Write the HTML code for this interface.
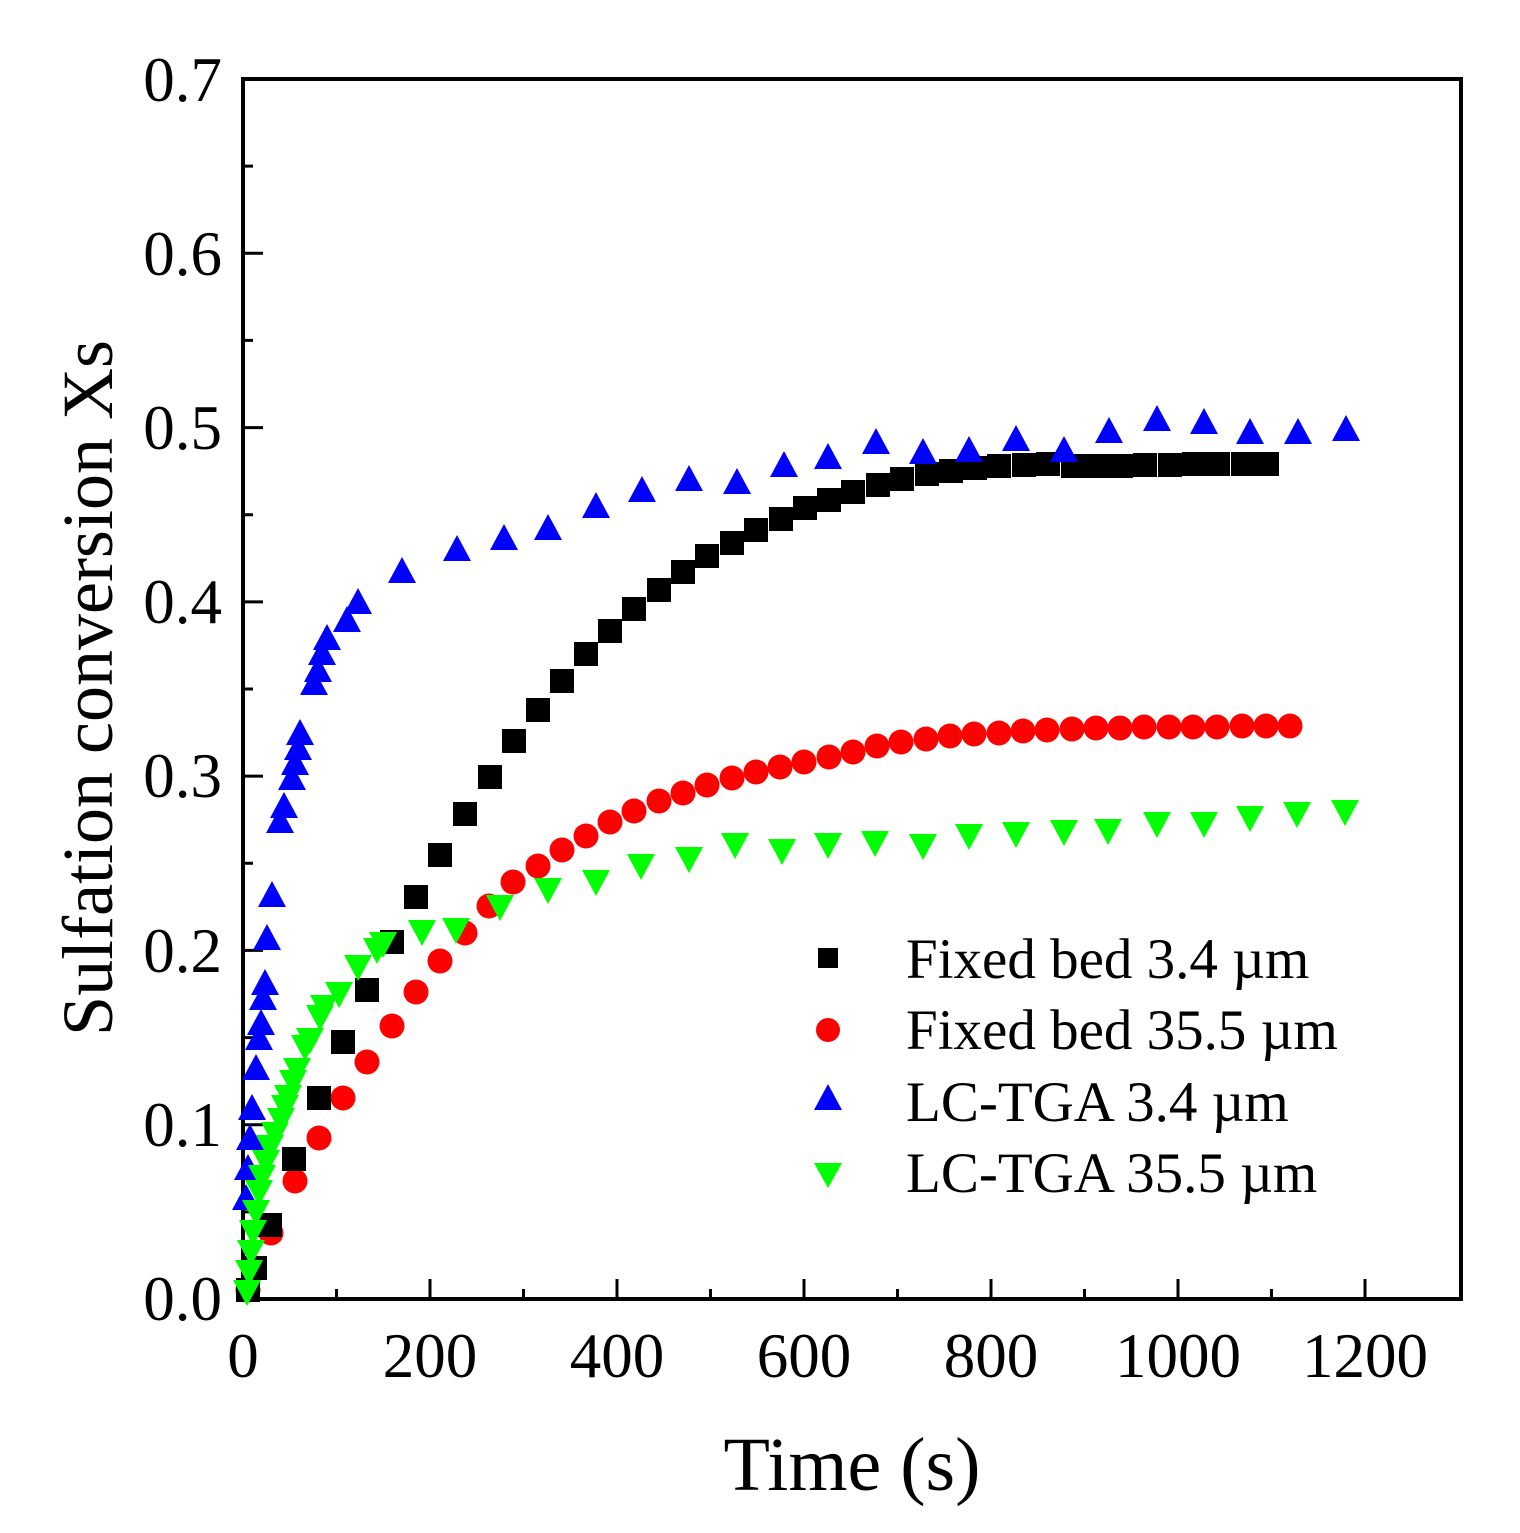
<!DOCTYPE html>
<html><head><style>body{margin:0;background:#fff}svg{display:block}text{font-family:"Liberation Serif",serif;fill:#000}</style></head><body>
<svg width="1520" height="1533" viewBox="0 0 1520 1533" xmlns="http://www.w3.org/2000/svg">
<defs>
<rect id="sq" x="-12" y="-12" width="24" height="24" fill="#000"/>
<circle id="ci" r="12.5" fill="#f00"/>
<polygon id="tu" points="0,-16 14,10 -14,10" fill="#00f"/>
<polygon id="td" points="0,16 14,-10 -14,-10" fill="#0f0"/>
</defs>
<g stroke="#000" stroke-width="3">
<path d="M243 1299v-20M430 1299v-20M617 1299v-20M804 1299v-20M991 1299v-20M1178 1299v-20M1365 1299v-20M336.5 1299v-10M523.5 1299v-10M710.5 1299v-10M897.5 1299v-10M1084.5 1299v-10M1271.5 1299v-10"/>
<path d="M243 1299h20M243 1124.7h20M243 950.4h20M243 776.1h20M243 601.9h20M243 427.6h20M243 253.3h20M243 79h20M243 1211.9h10M243 1037.6h10M243 863.3h10M243 689h10M243 514.7h10M243 340.4h10M243 166.1h10"/>
</g>
<rect x="243" y="79" width="1218" height="1220" fill="none" stroke="#000" stroke-width="4"/>
<g font-size="63" text-anchor="end">
<text x="222" y="1320">0.0</text><text x="222" y="1146">0.1</text><text x="222" y="972">0.2</text><text x="222" y="797">0.3</text><text x="222" y="623">0.4</text><text x="222" y="449">0.5</text><text x="222" y="275">0.6</text><text x="222" y="101">0.7</text>
</g>
<g font-size="63" text-anchor="middle">
<text x="243" y="1377">0</text><text x="430" y="1377">200</text><text x="617" y="1377">400</text><text x="804" y="1377">600</text><text x="991" y="1377">800</text><text x="1178" y="1377">1000</text><text x="1365" y="1377">1200</text>
</g>
<text x="852" y="1490" font-size="76" text-anchor="middle">Time (s)</text>
<text transform="translate(112,688) rotate(-90)" font-size="72" text-anchor="middle">Sulfation conversion Xs</text>
<g>
<use href="#ci" x="248" y="1290"/><use href="#ci" x="271" y="1233"/><use href="#ci" x="295" y="1181"/><use href="#ci" x="319" y="1138"/><use href="#ci" x="343" y="1098"/><use href="#ci" x="367" y="1062"/><use href="#ci" x="392" y="1026"/><use href="#ci" x="416" y="992"/><use href="#ci" x="440" y="961"/><use href="#ci" x="465" y="933"/><use href="#ci" x="489" y="906"/><use href="#ci" x="513" y="882"/><use href="#ci" x="538" y="866"/><use href="#ci" x="562" y="850"/><use href="#ci" x="586" y="836"/><use href="#ci" x="610" y="822"/><use href="#ci" x="634" y="811"/><use href="#ci" x="659" y="801"/><use href="#ci" x="683" y="793"/><use href="#ci" x="707" y="785"/><use href="#ci" x="732" y="778"/><use href="#ci" x="756" y="772"/><use href="#ci" x="780" y="767"/><use href="#ci" x="804" y="762"/><use href="#ci" x="829" y="757"/><use href="#ci" x="853" y="752"/><use href="#ci" x="877" y="746"/><use href="#ci" x="901" y="742"/><use href="#ci" x="926" y="739"/><use href="#ci" x="950" y="736"/><use href="#ci" x="974" y="734"/><use href="#ci" x="999" y="733"/><use href="#ci" x="1023" y="731"/><use href="#ci" x="1047" y="730"/><use href="#ci" x="1072" y="729"/><use href="#ci" x="1096" y="728"/><use href="#ci" x="1120" y="728"/><use href="#ci" x="1144" y="727"/><use href="#ci" x="1169" y="727"/><use href="#ci" x="1193" y="727"/><use href="#ci" x="1217" y="727"/><use href="#ci" x="1242" y="726"/><use href="#ci" x="1266" y="726"/><use href="#ci" x="1290" y="726"/>
</g>
<g>
<use href="#sq" x="248" y="1290"/><use href="#sq" x="255" y="1268"/><use href="#sq" x="270" y="1225"/><use href="#sq" x="294" y="1159"/><use href="#sq" x="319" y="1098"/><use href="#sq" x="343" y="1042"/><use href="#sq" x="367" y="990"/><use href="#sq" x="392" y="942"/><use href="#sq" x="416" y="897"/><use href="#sq" x="440" y="855"/><use href="#sq" x="465" y="814"/><use href="#sq" x="490" y="777"/><use href="#sq" x="514" y="741"/><use href="#sq" x="538" y="710"/><use href="#sq" x="562" y="681"/><use href="#sq" x="586" y="654"/><use href="#sq" x="610" y="631"/><use href="#sq" x="634" y="609"/><use href="#sq" x="659" y="590"/><use href="#sq" x="683" y="572"/><use href="#sq" x="707" y="556"/><use href="#sq" x="732" y="543"/><use href="#sq" x="756" y="530"/><use href="#sq" x="781" y="519"/><use href="#sq" x="805" y="508"/><use href="#sq" x="829" y="500"/><use href="#sq" x="853" y="492"/><use href="#sq" x="878" y="485"/><use href="#sq" x="902" y="479"/><use href="#sq" x="927" y="474"/><use href="#sq" x="951" y="471"/><use href="#sq" x="975" y="468"/><use href="#sq" x="999" y="466"/><use href="#sq" x="1024" y="465"/><use href="#sq" x="1048" y="464"/><use href="#sq" x="1073" y="466"/><use href="#sq" x="1097" y="466"/><use href="#sq" x="1121" y="466"/><use href="#sq" x="1145" y="465"/><use href="#sq" x="1170" y="465"/><use href="#sq" x="1194" y="464"/><use href="#sq" x="1218" y="464"/><use href="#sq" x="1243" y="464"/><use href="#sq" x="1267" y="464"/>
</g>
<g>
<use href="#tu" x="246" y="1200"/><use href="#tu" x="248" y="1170"/><use href="#tu" x="250" y="1140"/><use href="#tu" x="252" y="1110"/><use href="#tu" x="256" y="1070"/><use href="#tu" x="259" y="1040"/><use href="#tu" x="261" y="1025"/><use href="#tu" x="263" y="1000"/><use href="#tu" x="265" y="985"/><use href="#tu" x="267" y="940"/><use href="#tu" x="272" y="897"/><use href="#tu" x="280" y="823"/><use href="#tu" x="284" y="808"/><use href="#tu" x="292" y="780"/><use href="#tu" x="295" y="765"/><use href="#tu" x="298" y="750"/><use href="#tu" x="300" y="735"/><use href="#tu" x="314" y="685"/><use href="#tu" x="318" y="672"/><use href="#tu" x="322" y="655"/><use href="#tu" x="327" y="640"/><use href="#tu" x="347" y="622"/><use href="#tu" x="358" y="604"/><use href="#tu" x="402" y="573"/><use href="#tu" x="457" y="551"/><use href="#tu" x="504" y="540"/><use href="#tu" x="548" y="530"/><use href="#tu" x="596" y="508"/><use href="#tu" x="642" y="492"/><use href="#tu" x="689" y="481"/><use href="#tu" x="737" y="484"/><use href="#tu" x="784" y="467"/><use href="#tu" x="828" y="459"/><use href="#tu" x="876" y="444"/><use href="#tu" x="923" y="454"/><use href="#tu" x="969" y="452"/><use href="#tu" x="1016" y="441"/><use href="#tu" x="1064" y="452"/><use href="#tu" x="1109" y="433"/><use href="#tu" x="1157" y="421"/><use href="#tu" x="1204" y="424"/><use href="#tu" x="1250" y="434"/><use href="#tu" x="1298" y="434"/><use href="#tu" x="1346" y="431"/>
</g>
<g>
<use href="#td" x="247" y="1290"/><use href="#td" x="249" y="1270"/><use href="#td" x="251" y="1250"/><use href="#td" x="253" y="1230"/><use href="#td" x="256" y="1210"/><use href="#td" x="259" y="1190"/><use href="#td" x="262" y="1175"/><use href="#td" x="266" y="1160"/><use href="#td" x="270" y="1145"/><use href="#td" x="275" y="1132"/><use href="#td" x="281" y="1118"/><use href="#td" x="285" y="1105"/><use href="#td" x="288" y="1095"/><use href="#td" x="293" y="1080"/><use href="#td" x="297" y="1068"/><use href="#td" x="305" y="1045"/><use href="#td" x="310" y="1038"/><use href="#td" x="320" y="1015"/><use href="#td" x="324" y="1005"/><use href="#td" x="339" y="992"/><use href="#td" x="358" y="965"/><use href="#td" x="377" y="948"/><use href="#td" x="383" y="942"/><use href="#td" x="422" y="930"/><use href="#td" x="456" y="928"/><use href="#td" x="500" y="905"/><use href="#td" x="548" y="888"/><use href="#td" x="596" y="880"/><use href="#td" x="641" y="864"/><use href="#td" x="689" y="857"/><use href="#td" x="735" y="843"/><use href="#td" x="782" y="849"/><use href="#td" x="828" y="843"/><use href="#td" x="875" y="841"/><use href="#td" x="923" y="844"/><use href="#td" x="969" y="834"/><use href="#td" x="1016" y="832"/><use href="#td" x="1064" y="830"/><use href="#td" x="1108" y="829"/><use href="#td" x="1157" y="822"/><use href="#td" x="1204" y="822"/><use href="#td" x="1250" y="816"/><use href="#td" x="1297" y="812"/><use href="#td" x="1345" y="810"/>
</g>
<rect x="818" y="948" width="20" height="20" fill="#000"/>
<circle cx="828" cy="1030" r="12" fill="#f00"/>
<polygon points="828,1084 842,1110 814,1110" fill="#00f"/>
<polygon points="828,1188 842,1163 814,1163" fill="#0f0"/>
<g font-size="57">
<text x="906" y="978">Fixed bed 3.4 µm</text>
<text x="906" y="1049">Fixed bed 35.5 µm</text>
<text x="906" y="1121">LC-TGA 3.4 µm</text>
<text x="906" y="1192">LC-TGA 35.5 µm</text>
</g>
</svg>
</body></html>
